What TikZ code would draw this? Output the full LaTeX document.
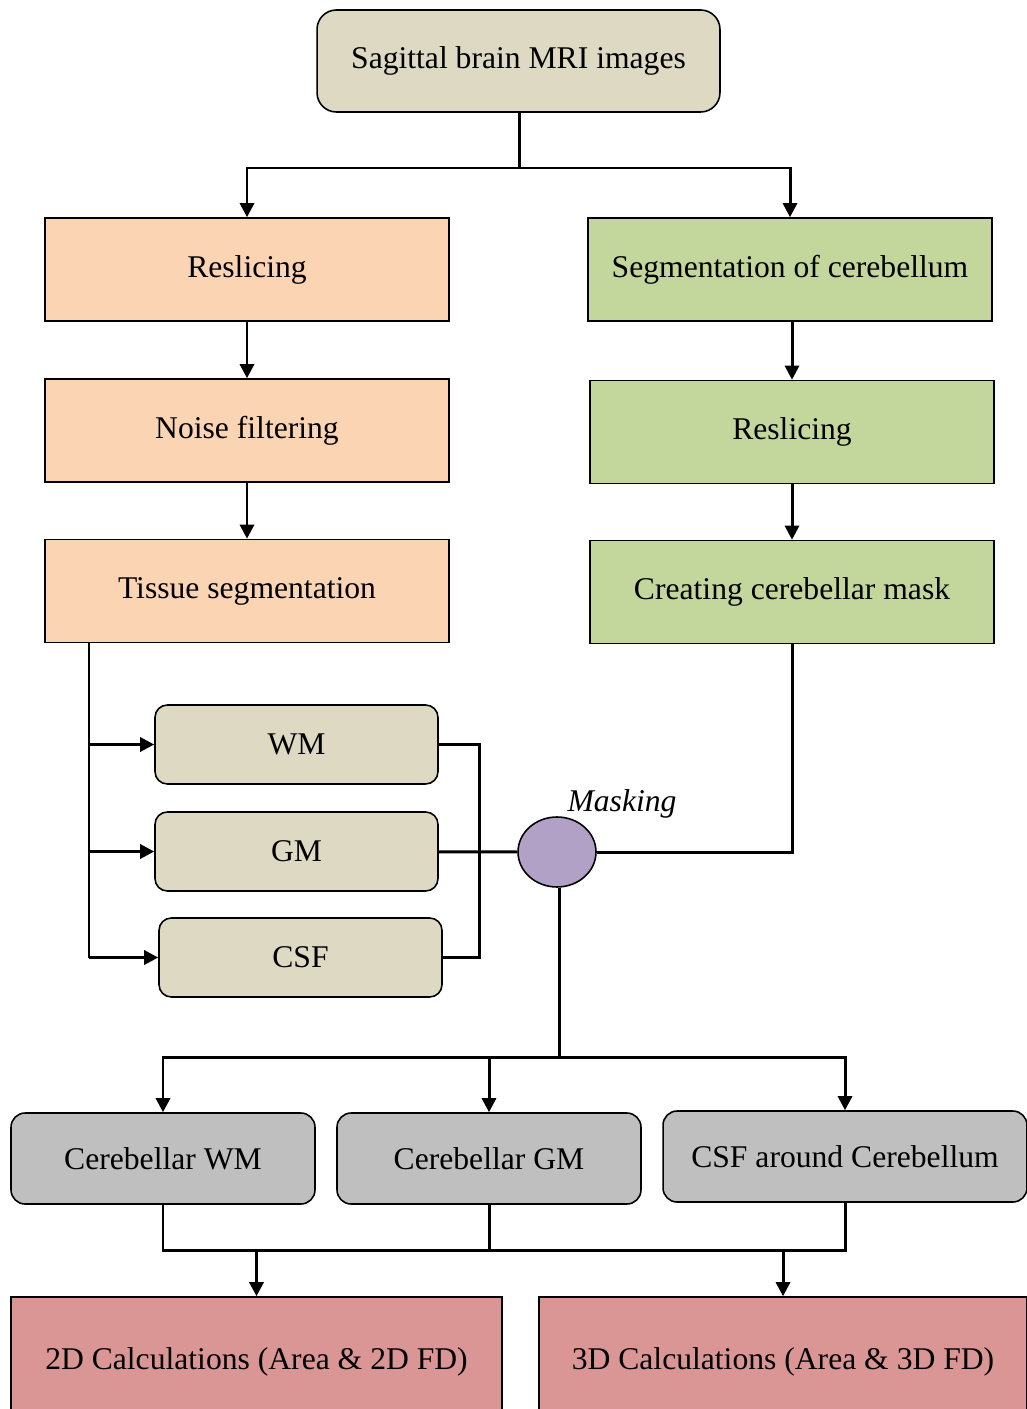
\documentclass[tikz,border=0pt]{standalone}
\usepackage{fontspec}
\setmainfont{Liberation Serif}
\usepackage{xcolor}
\usepackage{tikz}
\usetikzlibrary{arrows.meta,positioning,shapes.geometric,calc}
\definecolor{peach}{HTML}{FBD4B4}
\definecolor{leaf}{HTML}{C3D69B}
\definecolor{khaki}{HTML}{DDD9C3}
\definecolor{lilac}{HTML}{B2A1C7}
\definecolor{silver}{HTML}{BFBFBF}
\definecolor{rose}{HTML}{D99694}
\begin{document}
\begin{tikzpicture}[
  x=0.02cm, y=-0.02cm,
  font=\fontsize{18}{22}\selectfont,
  box/.style={draw, line width=0.9pt, align=center, inner sep=2pt,
              minimum width=8.08cm, minimum height=2.06cm},
  prep/.style={box, fill=peach},
  cbl/.style={box, fill=leaf},
  source/.style={box, fill=khaki, rounded corners=11pt,
                 minimum width=8.06cm, minimum height=2.04cm},
  tissue/.style={draw, line width=0.9pt, fill=khaki, rounded corners=7pt,
                 minimum width=5.66cm, minimum height=1.58cm},
  result/.style={draw, line width=0.9pt, fill=silver, rounded corners=8pt,
                 minimum width=6.08cm, minimum height=1.82cm},
  calcbox/.style={draw, line width=0.9pt, fill=rose,
                  minimum width=9.82cm, minimum height=2.6cm},
  link/.style={line width=1.7pt},
  flow/.style={link, -{Triangle[length=8pt, width=8pt]}}
]
\clip (0,0) rectangle (1027,1409);
\node[source] (mri) at (518.5,61) {Sagittal brain MRI images};
\node[prep] (lres) at (247,269.5) {Reslicing};
\node[prep] (noise) at (247,430.5) {Noise filtering};
\node[prep] (tseg) at (247,591) {Tissue segmentation};
\node[cbl] (cseg) at (790,269.5) {Segmentation of cerebellum};
\node[cbl] (rres) at (792,432) {Reslicing};
\node[cbl] (cmask) at (792,592) {Creating cerebellar mask};
\node[tissue] (wm) at (296.5,744.5) {WM};
\node[tissue] (gm) at (296.5,851.5) {GM};
\node[tissue] (csf) at (300.5,957.5) {CSF};
\node[ellipse, draw, line width=0.9pt, fill=lilac,
      minimum width=1.56cm, minimum height=1.4cm] (mask) at (557,852) {};
\node[font=\fontsize{18}{22}\selectfont\itshape] (masklbl) at (622,804) {Masking};
\node[result] (cwm) at (163,1158.5) {Cerebellar WM};
\node[result] (cgm) at (489,1158.5) {Cerebellar GM};
\node[result, minimum width=7.28cm] (ccsf) at (845,1156.5) {CSF around Cerebellum};
\node[calcbox] (calc2d) at (256.5,1362) {2D Calculations (Area \& 2D FD)};
\node[calcbox, minimum width=9.76cm] (calc3d) at (783,1362) {3D Calculations (Area \& 3D FD)};
\coordinate (split) at (519,168);
\coordinate (tline) at (89,642);
\coordinate (merge) at (479,852);
\coordinate (fan) at (559,1057);
\coordinate (join) at (489,1250);
\draw[link] (mri.south -| split) -- (split);
\draw[flow] (split) -| (lres);
\draw[flow] (split) -| (cseg);
\draw[flow] (lres) -- (noise);
\draw[flow] (noise) -- (tseg);
\draw[flow] (cseg.south -| rres) -- (rres);
\draw[flow] (rres) -- (cmask);
\draw[link] (tline) -- (tline |- csf);
\draw[flow] (tline |- wm) -- (wm);
\draw[flow] (tline |- gm) -- (gm);
\draw[flow] (tline |- csf) -- (csf);
\draw[link] (wm.east) -| (merge) |- (csf.east);
\draw[link] (gm) -- (mask);
\draw[link] (cmask.south) |- (mask.east);
\draw[link] (mask.south -| fan) -- (fan);
\draw[flow] (fan) -| (cwm);
\draw[flow] (fan) -| (cgm);
\draw[flow] (fan) -| (ccsf);
\draw[link] (cwm.south) |- (ccsf.south |- join) -- (ccsf.south);
\draw[link] (cgm.south) -- (join);
\draw[flow] (calc2d.north |- join) -- (calc2d.north);
\draw[flow] (calc3d.north |- join) -- (calc3d.north);
\end{tikzpicture}
\end{document}
